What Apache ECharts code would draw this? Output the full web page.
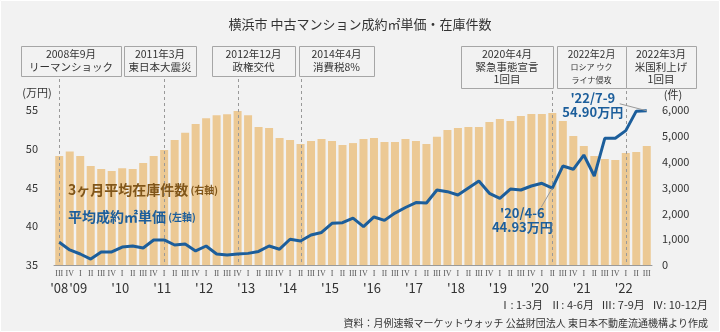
<!DOCTYPE html>
<html><head><meta charset="utf-8">
<script src="https://cdn.jsdelivr.net/npm/echarts@6/dist/echarts.min.js"></script>
<style>html,body{margin:0;padding:0;background:#fff}#c{width:720px;height:332px}</style>
</head><body><div id="c"></div>
<script>
const categories = [
  '2008Q3','2008Q4',
  '2009Q1','2009Q2','2009Q3','2009Q4',
  '2010Q1','2010Q2','2010Q3','2010Q4',
  '2011Q1','2011Q2','2011Q3','2011Q4',
  '2012Q1','2012Q2','2012Q3','2012Q4',
  '2013Q1','2013Q2','2013Q3','2013Q4',
  '2014Q1','2014Q2','2014Q3','2014Q4',
  '2015Q1','2015Q2','2015Q3','2015Q4',
  '2016Q1','2016Q2','2016Q3','2016Q4',
  '2017Q1','2017Q2','2017Q3','2017Q4',
  '2018Q1','2018Q2','2018Q3','2018Q4',
  '2019Q1','2019Q2','2019Q3','2019Q4',
  '2020Q1','2020Q2','2020Q3','2020Q4',
  '2021Q1','2021Q2','2021Q3','2021Q4',
  '2022Q1','2022Q2','2022Q3'
];
// 3ヶ月平均在庫件数（右軸, 件）
const inventory = [
  4220,4390,
  4220,3830,3720,3640,
  3750,3720,3950,4220,
  4450,4840,5120,5460,
  5680,5800,5840,5960,
  5800,5340,5300,4920,
  4840,4680,4800,4880,
  4800,4650,4720,4880,
  4920,4760,4760,4880,
  4800,4680,4960,5230,
  5300,5340,5340,5540,
  5650,5570,5770,5850,
  5850,5880,5570,4990,
  4610,4220,4100,4060,
  4340,4370,4610
];
// 平均成約㎡単価（左軸, 万円）
const price = [
  37.93,36.94,
  36.42,35.77,36.68,36.68,
  37.32,37.45,37.19,38.23,
  38.23,37.58,37.71,36.81,
  37.45,36.42,36.29,36.42,
  36.50,36.75,37.45,37.04,
  38.32,38.10,38.87,39.20,
  40.38,40.46,41.04,39.95,
  41.20,40.76,41.70,42.42,
  43.06,43.00,44.68,44.46,
  44.03,44.94,45.84,44.25,
  43.60,44.80,44.68,45.19,
  45.54,44.93,47.77,47.35,
  49.19,46.48,51.35,51.35,
  52.34,54.85,54.90
];
const quarterMarks = {Q1:'I', Q2:'II', Q3:'III', Q4:'IV'};
const yearLabels = {
  '2008':"'08",'2009':"'09",'2010':"'10",'2011':"'11",'2012':"'12",'2013':"'13",'2014':"'14",
  '2015':"'15",'2016':"'16",'2017':"'17",'2018':"'18",'2019':"'19",'2020':"'20",'2021':"'21",'2022':"'22"
};
const leftTicks = [35, 55, 5];
const rightTicks = [0, 6000, 1000];
const events = [
  {cat:'2008Q3', lines:['2008年9月','リーマンショック'], box:[21,46,100,30]},
  {cat:'2011Q1', lines:['2011年3月','東日本大震災'], box:[124,46,72,30]},
  {cat:'2012Q4', lines:['2012年12月','政権交代'], box:[212,46,83,30]},
  {cat:'2014Q2', lines:['2014年4月','消費税8%'], box:[299,46,75,30]},
  {cat:'2020Q2', lines:['2020年4月','緊急事態宣言','1回目'], box:[461,46,92,42]},
  {cat:'2022Q1', lines:['2022年2月','ロシア ウク','ライナ侵攻'], box:[557,46,69,42], small:true},
  {cat:'2022Q1', lines:['2022年3月','米国利上げ','1回目'], box:[626,46,70,42]}
];
const callouts = [
  {cat:'2020Q2', lines:["'20/4-6",'44.93万円']},
  {cat:'2022Q3', lines:["'22/7-9",'54.90万円']}
];

const FONT = '"Noto Sans CJK JP", "Noto Sans", sans-serif';
const BLUE = '#1c5e9b';
const BAR = '#ecc994';
const chart = echarts.init(document.getElementById('c'));
chart.setOption({
  backgroundColor: '#f2f2f2',
  animation: false,
  textStyle: {fontFamily: FONT},
  title: {
    text: '横浜市 中古マンション成約㎡単価・在庫件数',
    left: 'center', top: 13,
    textStyle: {fontSize: 13, fontWeight: 'normal', color: '#333', fontFamily: FONT}
  },
  grid: {left: 54, right: 68, top: 110, bottom: 67},
  xAxis: {
    type: 'category', data: categories,
    axisLine: {lineStyle: {color: '#9a9a9a', width: 1}},
    axisTick: {show: false},
    axisLabel: {
      interval: 0, margin: 4,
      formatter: function (v, i) {
        const y = v.slice(0, 4), q = v.slice(4);
        let s = '{q|' + quarterMarks[q] + '}';
        if (i === 0) s += '\n{y0|' + yearLabels[y] + '}';
        else if (q === 'Q1') s += '\n{y|' + yearLabels[y] + '}';
        return s;
      },
      rich: {
        q: {fontFamily: '"Liberation Serif", serif', fontSize: 8, lineHeight: 10, color: '#555'},
        y: {fontFamily: FONT, fontSize: 13, lineHeight: 19, color: '#333', padding: [0, 4, 0, 0]},
        y0: {fontFamily: FONT, fontSize: 13, lineHeight: 19, color: '#333'}
      }
    }
  },
  yAxis: [
    {type: 'value', min: leftTicks[0], max: leftTicks[1], interval: leftTicks[2],
     splitLine: {show: false}, axisLine: {show: false}, axisTick: {show: false},
     axisLabel: {margin: 16, fontSize: 11, color: '#333', fontFamily: FONT}},
    {type: 'value', min: rightTicks[0], max: rightTicks[1], interval: rightTicks[2],
     splitLine: {show: false}, axisLine: {show: false}, axisTick: {show: false},
     axisLabel: {margin: 10, fontSize: 11, color: '#333', fontFamily: FONT,
       formatter: v => v.toLocaleString('en-US')}}
  ],
  series: [
    {type: 'bar', data: inventory, yAxisIndex: 1, barWidth: 8,
     itemStyle: {color: BAR}, z: 2},
    {type: 'line', data: price, yAxisIndex: 0, showSymbol: false, symbol: 'none',
     lineStyle: {color: BLUE, width: 3}, z: 5}
  ]
});

const g = [];
const px = (cat, val) => chart.convertToPixel({xAxisIndex: 0, yAxisIndex: 0}, [cat, val]);
const baseY = px(categories[0], leftTicks[0])[1];
g.push({type: 'rect', shape: {x: 0.5, y: 0.5, width: 719, height: 331},
  style: {fill: 'none', stroke: '#fff', lineWidth: 1}, z: 100});
const drawn = {};
events.forEach(ev => {
  const [bx, by, bw, bh] = ev.box;
  g.push({type: 'rect', shape: {x: bx + 0.5, y: by + 0.5, width: bw, height: bh},
    style: {fill: '#f2f2f2', stroke: '#a6a6a6', lineWidth: 1}, z: 10});
  const n = ev.lines.length;
  const step = n === 2 ? 13 : 12.5;
  const startY = by + bh / 2 - step * (n - 1) / 2;
  ev.lines.forEach((t, k) => {
    const fs = ev.small ? (k === 0 ? 10 : 8) : 10.5;
    g.push({type: 'text', x: bx + bw / 2, y: startY + k * step, z: 11,
      style: {text: t, fill: '#333', font: fs + 'px ' + FONT, align: 'center', verticalAlign: 'middle'}});
  });
  if (!drawn[ev.cat]) {
    drawn[ev.cat] = true;
    const x = Math.round(px(ev.cat, leftTicks[0])[0]) + 0.5;
    g.push({type: 'line', shape: {x1: x, y1: by + bh + 3, x2: x, y2: baseY}, z: 4,
      style: {stroke: '#999', lineWidth: 1, lineDash: [3, 3]}});
  }
});
const gridTop = px(categories[0], leftTicks[1])[1];
g.push({type: 'text', x: 37, y: gridTop - 17, style: {text: '(万円)', fill: '#333', font: '11px ' + FONT, align: 'center', verticalAlign: 'middle'}});
g.push({type: 'text', x: 673, y: gridTop - 15, style: {text: '(件)', fill: '#333', font: '11px ' + FONT, align: 'center', verticalAlign: 'middle'}});
g.push({type: 'text', x: 68, y: 190, z: 20, style: {
  text: '{a|3ヶ月平均在庫件数}{b| (右軸)}', verticalAlign: 'middle',
  rich: {a: {fontFamily: FONT, fontSize: 14, fontWeight: 'bold', fill: '#80561a'},
         b: {fontFamily: FONT, fontSize: 10, fontWeight: 'bold', fill: '#80561a'}}}});
g.push({type: 'text', x: 68, y: 217, z: 20, style: {
  text: '{a|平均成約㎡単価}{b| (左軸)}', verticalAlign: 'middle',
  rich: {a: {fontFamily: FONT, fontSize: 14, fontWeight: 'bold', fill: BLUE},
         b: {fontFamily: FONT, fontSize: 10, fontWeight: 'bold', fill: BLUE}}}});
const idxOf = c => categories.indexOf(c);
{
  const c = callouts[0];
  const p = px(c.cat, price[idxOf(c.cat)]);
  g.push({type: 'line', shape: {x1: p[0] - 11, y1: p[1] + 19, x2: p[0], y2: p[1]}, z: 6,
    style: {stroke: '#999', lineWidth: 1}});
  c.lines.forEach((t, k) => g.push({type: 'text', x: p[0] - 30, y: p[1] + 25 + k * 14, z: 20,
    style: {text: t, fill: BLUE, font: 'bold 13px ' + FONT, align: 'center', verticalAlign: 'middle'}}));
}
{
  const c = callouts[1];
  const p = px(c.cat, price[idxOf(c.cat)]);
  g.push({type: 'line', shape: {x1: p[0] - 27, y1: p[1] - 7, x2: p[0], y2: p[1]}, z: 6,
    style: {stroke: '#999', lineWidth: 1}});
  c.lines.forEach((t, k) => g.push({type: 'text', x: p[0] - 54, y: p[1] - 13 + k * 14, z: 20,
    style: {text: t, fill: BLUE, font: 'bold 13px ' + FONT, align: 'center', verticalAlign: 'middle'}}));
}
g.push({type: 'text', x: 708, y: 305, style: {text: 'Ⅰ: 1-3月   Ⅱ: 4-6月   Ⅲ: 7-9月   Ⅳ: 10-12月', fill: '#333', font: '11px ' + FONT, align: 'right', verticalAlign: 'middle'}});
g.push({type: 'text', x: 708, y: 323, style: {text: '資料：月例速報マーケットウォッチ 公益財団法人 東日本不動産流通機構より作成', fill: '#333', font: '10px ' + FONT, align: 'right', verticalAlign: 'middle'}});

chart.setOption({graphic: g});
</script></body></html>
